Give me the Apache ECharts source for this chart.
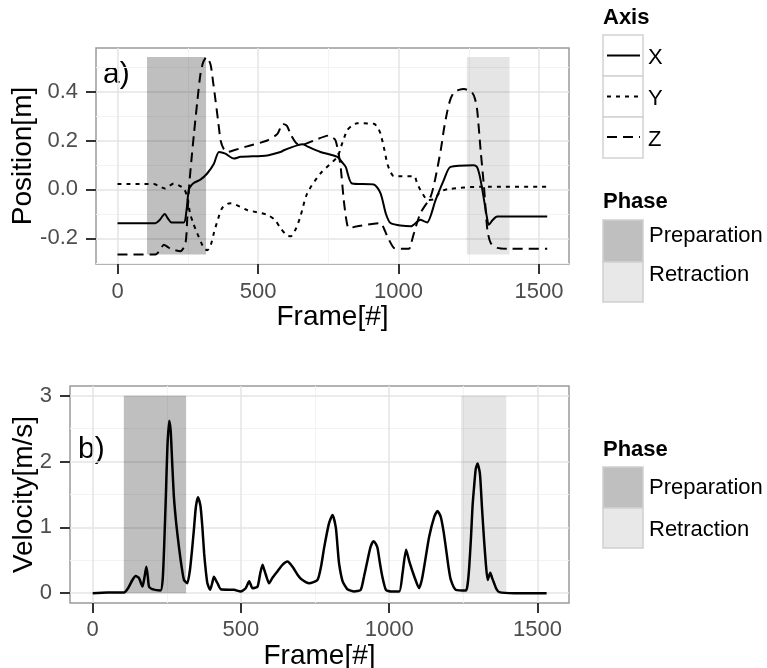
<!DOCTYPE html>
<html><head><meta charset="utf-8">
<script src="https://cdn.jsdelivr.net/npm/echarts@6/dist/echarts.min.js"></script>
<style>html,body{margin:0;padding:0;background:#fff}#c{width:767px;height:668px}</style>
</head><body><div id="c"></div>
<script>
// ---- data (frame, value) ----
const posX = [[0,-0.138],[135,-0.138],[150,-0.125],[168,-0.101],[180,-0.12],[192,-0.135],[236,-0.135],[245,-0.09],[254,0.0],[265,0.02],[272,0.027],[295,0.04],[319,0.065],[343,0.105],[361,0.153],[384,0.146],[414,0.126],[438,0.133],[533,0.139],[580,0.153],[592,0.16],[639,0.18],[660,0.185],[675,0.176],[722,0.153],[782,0.133],[800,0.11],[812,0.092],[835,0.024],[912,0.02],[936,-0.016],[955,-0.1],[972,-0.138],[1043,-0.151],[1078,-0.124],[1090,-0.13],[1102,-0.135],[1132,-0.043],[1161,0.038],[1185,0.092],[1268,0.099],[1280,0.09],[1292,0.038],[1316,-0.124],[1321,-0.145],[1335,-0.125],[1351,-0.111],[1529,-0.111]];
const posY = [[0,0.022],[129,0.022],[150,0.012],[168,0.004],[185,0.015],[200,0.024],[220,0.015],[236,0.004],[248,-0.03],[258,-0.097],[270,-0.14],[283,-0.178],[307,-0.239],[319,-0.249],[331,-0.23],[343,-0.178],[358,-0.12],[372,-0.077],[390,-0.06],[402,-0.057],[461,-0.084],[533,-0.104],[560,-0.125],[580,-0.158],[600,-0.185],[616,-0.192],[635,-0.16],[651,-0.11],[675,-0.016],[722,0.065],[782,0.133],[800,0.19],[817,0.241],[835,0.262],[853,0.27],[912,0.268],[925,0.255],[936,0.227],[950,0.16],[960,0.105],[972,0.07],[983,0.054],[1055,0.054],[1066,0.025],[1078,-0.003],[1095,-0.035],[1102,-0.043],[1126,-0.04],[1150,-0.009],[1174,0.001],[1292,0.011],[1529,0.011]];
const posZ = [[0,-0.266],[135,-0.266],[150,-0.25],[165,-0.226],[178,-0.235],[189,-0.243],[224,-0.253],[242,-0.219],[248,-0.12],[254,0.0],[263,0.12],[272,0.227],[284,0.36],[295,0.47],[305,0.52],[317,0.541],[331,0.511],[340,0.44],[349,0.362],[358,0.28],[367,0.2],[378,0.165],[390,0.153],[414,0.16],[461,0.176],[533,0.2],[569,0.227],[588,0.268],[603,0.26],[616,0.225],[635,0.19],[651,0.18],[699,0.2],[752,0.22],[768,0.21],[776,0.2],[786,0.15],[794,0.092],[805,-0.043],[815,-0.13],[823,-0.158],[853,-0.151],[936,-0.138],[948,-0.16],[960,-0.192],[983,-0.239],[1000,-0.243],[1037,-0.243],[1045,-0.22],[1055,-0.178],[1078,-0.097],[1114,-0.03],[1130,0.04],[1150,0.16],[1162,0.25],[1174,0.322],[1185,0.37],[1197,0.396],[1215,0.407],[1233,0.41],[1250,0.405],[1262,0.396],[1272,0.37],[1280,0.322],[1292,0.16],[1304,0.011],[1316,-0.165],[1328,-0.219],[1351,-0.239],[1400,-0.243],[1529,-0.243]];
const velocity = [[0,0],[50,0.01],[106,0.01],[120,0.08],[134,0.2],[145,0.26],[156,0.23],[168,0.1],[175,0.25],[181,0.4],[186,0.25],[190,0.1],[201,0.06],[229,0.04],[236,0.2],[241,0.7],[247,1.5],[252,2.22],[258,2.62],[263,2.47],[268,2.0],[274,1.46],[282,1.05],[291,0.7],[300,0.4],[308,0.2],[319,0.15],[328,0.35],[336,0.7],[342,1.0],[348,1.31],[355,1.46],[360,1.4],[364,1.31],[370,1.0],[376,0.6],[382,0.32],[387,0.15],[396,0.05],[403,0.15],[409,0.25],[415,0.2],[421,0.15],[432,0.06],[477,0.05],[499,0.025],[516,0.075],[528,0.18],[539,0.075],[556,0.1],[565,0.3],[573,0.43],[579,0.35],[584,0.28],[595,0.15],[606,0.23],[623,0.33],[640,0.43],[657,0.48],[674,0.4],[691,0.28],[702,0.22],[730,0.15],[758,0.2],[770,0.4],[781,0.7],[797,1.06],[809,1.19],[820,1.0],[826,0.7],[831,0.45],[843,0.18],[859,0.06],[882,0.025],[904,0.05],[915,0.25],[927,0.5],[937,0.7],[947,0.79],[955,0.75],[961,0.68],[969,0.45],[977,0.25],[989,0.05],[1006,0.025],[1034,0.025],[1045,0.3],[1057,0.66],[1068,0.48],[1085,0.25],[1101,0.075],[1110,0.2],[1118,0.4],[1135,0.86],[1152,1.16],[1163,1.25],[1174,1.16],[1183,0.95],[1191,0.7],[1200,0.4],[1208,0.2],[1225,0.05],[1259,0.04],[1265,0.15],[1270,0.4],[1276,0.85],[1281,1.31],[1287,1.65],[1292,1.89],[1298,1.97],[1306,1.82],[1313,1.3],[1320,0.81],[1326,0.45],[1332,0.2],[1336,0.25],[1341,0.31],[1348,0.22],[1354,0.15],[1362,0.06],[1371,0.015],[1421,0],[1531,0]];

const frameTicks = [0, 500, 1000, 1500];
const frameMinor = [250, 750, 1250];
const posTicks = [-0.2, 0, 0.2, 0.4];
const posMinor = [-0.3, -0.1, 0.1, 0.3, 0.5];
const velTicks = [0, 1, 2, 3];
const velMinor = [0.5, 1.5, 2.5];
const preparation = [105, 315];
const retraction = [1243, 1395];
const posRange = [-0.266, 0.541];
const velRange = [0, 3];

const FONT = '"Liberation Sans", Arial, Helvetica, sans-serif';
const chart = echarts.init(document.getElementById('c'), null, {renderer: 'canvas'});

function gridLines(xs, xm, ys, ym) {
  const maj = {color: '#e4e4e4', width: 1.5, type: 'solid'};
  const min = {color: '#f3f3f3', width: 1, type: 'solid'};
  return [].concat(
    xm.map(v => ({xAxis: v, lineStyle: min})),
    ym.map(v => ({yAxis: v, lineStyle: min})),
    xs.map(v => ({xAxis: v, lineStyle: maj})),
    ys.map(v => ({yAxis: v, lineStyle: maj}))
  );
}
function phaseAreas(yr) {
  return [
    [{xAxis: preparation[0], yAxis: yr[0], itemStyle: {color: 'rgba(0,0,0,0.25)'}}, {xAxis: preparation[1], yAxis: yr[1]}],
    [{xAxis: retraction[0], yAxis: yr[0], itemStyle: {color: 'rgba(0,0,0,0.1)'}}, {xAxis: retraction[1], yAxis: yr[1]}]
  ];
}
function xAxisCfg(idx, name, margin, gap) {
  return {
    type: 'value', gridIndex: idx, min: -76.5, max: 1606.5,
    name: name, nameLocation: 'middle', nameGap: gap,
    nameTextStyle: {fontSize: 28, color: '#000', fontFamily: FONT},
    axisLine: {show: false, onZero: false},
    axisTick: {show: true, length: 10, customValues: frameTicks, lineStyle: {color: '#333', width: 2}},
    axisLabel: {customValues: frameTicks, fontSize: 22, color: '#4d4d4d', fontFamily: FONT, margin: margin,
                formatter: v => String(Math.round(v))},
    splitLine: {show: false}
  };
}
const lineBase = {type: 'line', showSymbol: false, smooth: 0.25, animation: false, silent: true, z: 3};

chart.setOption({
  animation: false,
  grid: [
    {left: 96, top: 48, width: 473, height: 216, show: true, borderColor: '#9a9a9a', borderWidth: 1.5, backgroundColor: 'transparent', containLabel: false, outerBoundsMode: 'none'},
    {left: 70, top: 386, width: 499, height: 217, show: true, borderColor: '#9a9a9a', borderWidth: 1.5, backgroundColor: 'transparent', containLabel: false, outerBoundsMode: 'none'}
  ],
  xAxis: [xAxisCfg(0, 'Frame[#]', 16.5, 36.5), xAxisCfg(1, 'Frame[#]', 16, 35)],
  yAxis: [
    {type: 'value', gridIndex: 0, min: -0.305, max: 0.578,
     name: 'Position[m]', nameLocation: 'middle', nameGap: 59, nameMoveOverlap: false,
     nameTextStyle: {fontSize: 28, color: '#000', fontFamily: FONT},
     axisLine: {show: false, onZero: false},
     axisTick: {show: true, length: 10, customValues: posTicks, lineStyle: {color: '#333', width: 2}},
     axisLabel: {customValues: posTicks, fontSize: 22, color: '#4d4d4d', fontFamily: FONT, margin: 18,
                 formatter: v => v.toFixed(1)},
     splitLine: {show: false}},
    {type: 'value', gridIndex: 1, min: -0.15, max: 3.15,
     name: 'Velocity[m/s]', nameLocation: 'middle', nameGap: 32, nameMoveOverlap: false,
     nameTextStyle: {fontSize: 28, color: '#000', fontFamily: FONT},
     axisLine: {show: false, onZero: false},
     axisTick: {show: true, length: 10, customValues: velTicks, lineStyle: {color: '#333', width: 2}},
     axisLabel: {customValues: velTicks, fontSize: 22, color: '#4d4d4d', fontFamily: FONT, margin: 18,
                 formatter: v => String(Math.round(v))},
     splitLine: {show: false}}
  ],
  series: [
    {type: 'line', xAxisIndex: 0, yAxisIndex: 0, data: [], silent: true, z: 1,
     markLine: {silent: true, symbol: 'none', z: 0, label: {show: false}, animation: false, data: gridLines(frameTicks, frameMinor, posTicks, posMinor)},
     markArea: {silent: true, z: 1, animation: false, data: phaseAreas(posRange)}},
    {type: 'line', xAxisIndex: 1, yAxisIndex: 1, data: [], silent: true, z: 1,
     markLine: {silent: true, symbol: 'none', z: 0, label: {show: false}, animation: false, data: gridLines(frameTicks, frameMinor, velTicks, velMinor)},
     markArea: {silent: true, z: 1, animation: false, data: phaseAreas(velRange)}},
    Object.assign({}, lineBase, {name: 'X', xAxisIndex: 0, yAxisIndex: 0, data: posX, lineStyle: {color: '#000', width: 2, type: 'solid'}}),
    Object.assign({}, lineBase, {name: 'Y', xAxisIndex: 0, yAxisIndex: 0, data: posY, lineStyle: {color: '#000', width: 2, type: [4, 5]}}),
    Object.assign({}, lineBase, {name: 'Z', xAxisIndex: 0, yAxisIndex: 0, data: posZ, lineStyle: {color: '#000', width: 2, type: [10, 6]}}),
    Object.assign({}, lineBase, {name: 'Velocity', xAxisIndex: 1, yAxisIndex: 1, data: velocity, smooth: 0.2, lineStyle: {color: '#000', width: 2.5, type: 'solid'}})
  ],
  graphic: [
    {type: 'text', x: 103, y: 75, style: {text: 'a)', font: '30px ' + FONT, fill: '#000', verticalAlign: 'middle'}},
    {type: 'text', x: 78, y: 450, style: {text: 'b)', font: '30px ' + FONT, fill: '#000', verticalAlign: 'middle'}},
    // Axis legend
    {type: 'text', x: 603, y: 18, style: {text: 'Axis', font: 'bold 22px ' + FONT, fill: '#000', verticalAlign: 'middle'}},
    {type: 'rect', shape: {x: 603, y: 35, width: 40, height: 41}, style: {fill: '#fff', stroke: '#d2d2d2', lineWidth: 1.5}},
    {type: 'rect', shape: {x: 603, y: 76, width: 40, height: 41}, style: {fill: '#fff', stroke: '#d2d2d2', lineWidth: 1.5}},
    {type: 'rect', shape: {x: 603, y: 117, width: 40, height: 41}, style: {fill: '#fff', stroke: '#d2d2d2', lineWidth: 1.5}},
    {type: 'line', shape: {x1: 607, y1: 55.5, x2: 640, y2: 55.5}, style: {stroke: '#000', lineWidth: 2}},
    {type: 'line', shape: {x1: 607, y1: 96.5, x2: 640, y2: 96.5}, style: {stroke: '#000', lineWidth: 2, lineDash: [4, 5]}},
    {type: 'line', shape: {x1: 607, y1: 137, x2: 640, y2: 137}, style: {stroke: '#000', lineWidth: 2, lineDash: [10, 6]}},
    {type: 'text', x: 648, y: 58, style: {text: 'X', font: '22px ' + FONT, fill: '#000', verticalAlign: 'middle'}},
    {type: 'text', x: 648, y: 98.5, style: {text: 'Y', font: '22px ' + FONT, fill: '#000', verticalAlign: 'middle'}},
    {type: 'text', x: 648, y: 139.5, style: {text: 'Z', font: '22px ' + FONT, fill: '#000', verticalAlign: 'middle'}},
    // Phase legend (top)
    {type: 'text', x: 603, y: 202, style: {text: 'Phase', font: 'bold 22px ' + FONT, fill: '#000', verticalAlign: 'middle'}},
    {type: 'rect', shape: {x: 603, y: 220, width: 40, height: 42}, style: {fill: '#bfbfbf', stroke: '#cfcfcf', lineWidth: 1.5}},
    {type: 'rect', shape: {x: 603, y: 262, width: 40, height: 40}, style: {fill: '#e8e8e8', stroke: '#cfcfcf', lineWidth: 1.5}},
    {type: 'text', x: 649, y: 236, style: {text: 'Preparation', font: '22px ' + FONT, fill: '#000', verticalAlign: 'middle'}},
    {type: 'text', x: 649, y: 275, style: {text: 'Retraction', font: '22px ' + FONT, fill: '#000', verticalAlign: 'middle'}},
    // Phase legend (bottom)
    {type: 'text', x: 603, y: 450, style: {text: 'Phase', font: 'bold 22px ' + FONT, fill: '#000', verticalAlign: 'middle'}},
    {type: 'rect', shape: {x: 603, y: 467, width: 40, height: 41}, style: {fill: '#bfbfbf', stroke: '#cfcfcf', lineWidth: 1.5}},
    {type: 'rect', shape: {x: 603, y: 508, width: 40, height: 40}, style: {fill: '#e8e8e8', stroke: '#cfcfcf', lineWidth: 1.5}},
    {type: 'text', x: 649, y: 488, style: {text: 'Preparation', font: '22px ' + FONT, fill: '#000', verticalAlign: 'middle'}},
    {type: 'text', x: 649, y: 530, style: {text: 'Retraction', font: '22px ' + FONT, fill: '#000', verticalAlign: 'middle'}}
  ]
});
</script>
</body></html>
